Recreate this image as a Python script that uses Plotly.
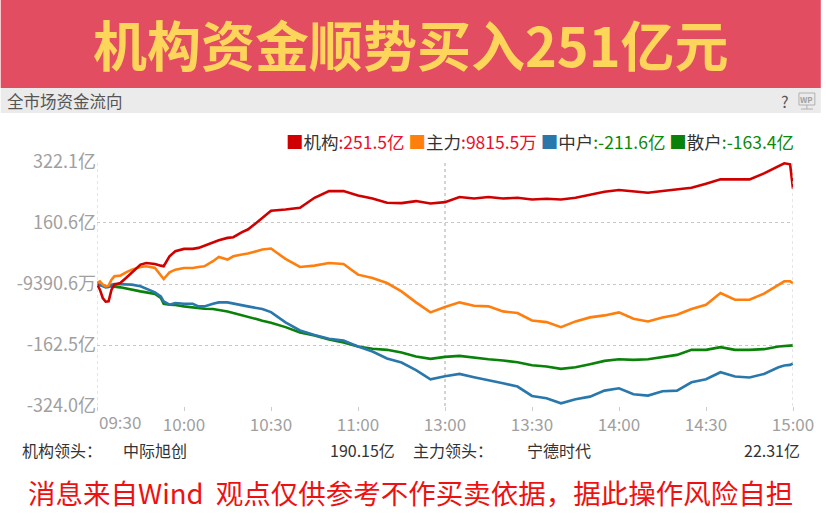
import plotly.graph_objects as go

# minutes since 09:30 (trading time, lunch break removed: 120 == 13:00)
minutes = [0, 1, 2, 3, 4, 5, 6, 8, 10, 12, 15, 17, 20, 22, 23, 25, 27, 30, 33, 35,
           37, 40, 42, 45, 47, 50, 52, 55, 57, 60, 65, 70, 75, 80, 85, 90, 95, 100,
           105, 110, 115, 120, 125, 130, 135, 140, 145, 150, 155, 160, 165, 170,
           175, 180, 185, 190, 195, 200, 205, 210, 215, 220, 225, 230, 235, 237,
           239, 240]

# 亿元
jigou = [-0.9, -16.0, -38.1, -47.8, -47.0, -16.0, -2.7, 1.7, 15.0, 28.3, 50.4, 54.8,
         52.2, 47.7, 46.0, 72.5, 85.8, 92.0, 92.0, 94.7, 100.8, 107.9, 115.0, 121.2,
         123.0, 136.3, 143.3, 161.0, 174.3, 192.9, 196.4, 200.9, 227.4, 245.1, 245.1,
         233.6, 225.6, 214.1, 213.3, 218.6, 212.4, 215.9, 229.2, 225.6, 229.2, 225.6,
         227.4, 223.0, 224.8, 223.0, 227.4, 236.3, 243.3, 247.8, 245.1, 240.7, 245.1,
         249.5, 253.9, 264.6, 276.1, 276.1, 276.1, 292.0, 309.7, 318.6, 315.9, 251.5]

zhuli = [1.7, 6.2, -2.7, -7.1, -5.4, 10.6, 19.4, 21.2, 30.0, 37.1, 44.2, 46.0, 41.6,
         23.8, 12.3, 30.0, 37.1, 41.6, 41.6, 44.2, 46.0, 59.3, 70.7, 63.7, 72.5, 77.0,
         79.6, 85.8, 90.2, 92.9, 65.5, 44.2, 47.7, 54.8, 52.2, 23.8, 15.0, 1.7, -20.4,
         -49.6, -76.1, -62.0, -49.6, -58.5, -60.2, -73.5, -77.9, -97.4, -101.8, -115.1,
         -100.0, -89.4, -84.1, -76.1, -93.0, -100.0, -89.4, -82.3, -67.3, -55.8, -24.8,
         -42.5, -42.5, -26.6, -2.7, 6.2, 6.2, 0.98]

zhonghu = [-0.9, -4.5, -7.1, -9.8, -8.9, -2.7, -0.9, -0.9, -2.7, -2.7, -7.1, -14.2,
           -23.1, -33.7, -47.0, -55.8, -51.4, -53.2, -53.2, -60.2, -60.2, -53.2, -49.6,
           -49.6, -53.2, -57.6, -60.2, -64.6, -67.3, -75.3, -102.7, -123.9, -136.3,
           -146.0, -150.5, -166.4, -179.7, -198.3, -208.9, -229.2, -253.2, -245.2,
           -239.0, -247.8, -254.9, -263.8, -272.6, -297.4, -303.6, -316.9, -306.3,
           -299.2, -283.3, -277.1, -293.0, -296.5, -285.0, -283.3, -261.1, -253.2,
           -234.6, -246.1, -248.7, -239.0, -221.3, -216.9, -215.1, -211.6]

sanhu = [-0.9, -3.6, -5.4, -6.2, -6.2, -7.1, -8.0, -9.8, -13.3, -16.0, -20.4, -23.1,
         -27.5, -38.1, -53.2, -55.8, -56.7, -60.2, -62.9, -65.5, -66.4, -67.3, -69.1,
         -73.5, -77.9, -83.2, -86.8, -93.9, -98.3, -103.6, -115.1, -129.2, -137.2,
         -147.8, -155.8, -166.4, -172.6, -175.3, -182.4, -193.0, -199.2, -193.9,
         -191.2, -196.5, -200.1, -203.6, -208.0, -216.0, -219.5, -225.7, -221.3,
         -213.3, -204.5, -200.1, -201.8, -200.1, -194.8, -188.6, -175.3, -175.3,
         -168.2, -175.3, -175.3, -173.5, -166.4, -164.6, -164.6, -163.4]

x_ticks = [0, 30, 60, 90, 120, 150, 180, 210, 240]
x_labels = ["09:30", "10:00", "10:30", "11:00", "13:00", "13:30", "14:00", "14:30", "15:00"]
y_ticks = [322.1, 160.6, -0.939, -162.5, -324.0]
y_labels = ["322.1亿", "160.6亿", "-9390.6万", "-162.5亿", "-324.0亿"]

FONT = "Noto Sans CJK SC"
W, H = 826, 517
L, R, T, B = 97, 28, 162, 111


def px_x(px):
    return (px - L) / (W - L - R)


def px_y(py):
    return (H - B - py) / (H - T - B)


fig = go.Figure()
series = [("机构", jigou, "#d00000"), ("主力", zhuli, "#ff7f0e"),
          ("中户", zhonghu, "#2a78ab"), ("散户", sanhu, "#0a820a")]
for name, vals, col in series[::-1]:
    fig.add_trace(go.Scatter(x=minutes, y=vals, mode="lines", name=name,
                             line=dict(color=col, width=2.6), showlegend=False,
                             hoverinfo="skip"))

fig.update_layout(
    width=W, height=H,
    margin=dict(l=L, r=R, t=T, b=B),
    paper_bgcolor="white", plot_bgcolor="white",
    font=dict(family=FONT),
    xaxis=dict(range=[0, 240], tickvals=x_ticks,
               ticktext=[""] + x_labels[1:], showgrid=False, zeroline=False,
               ticks="outside", ticklen=4, tickcolor="#cccccc",
               tickfont=dict(size=17, color="#a0a0a0"), showline=False),
    yaxis=dict(range=[-324.0, 322.1], tickvals=y_ticks, ticktext=y_labels,
               showgrid=True, gridcolor="#c8c8c8", griddash="dot", gridwidth=1,
               zeroline=False, tickfont=dict(size=18, color="#a0a0a0"),
               ticks="", showline=False),
)

shapes = [
    # banner and header bar
    dict(type="rect", xref="paper", yref="paper", x0=px_x(0), x1=px_x(W),
         y0=px_y(0), y1=px_y(88), fillcolor="#e24d62", line=dict(width=0), layer="below"),
    dict(type="rect", xref="paper", yref="paper", x0=px_x(0), x1=px_x(W),
         y0=px_y(88), y1=px_y(113), fillcolor="#ebebeb", line=dict(width=0), layer="below"),
    # WP icon
    dict(type="rect", xref="paper", yref="paper", x0=px_x(804), x1=px_x(820),
         y0=px_y(93), y1=px_y(105), line=dict(color="#b0b0b0", width=1)),
    dict(type="line", xref="paper", yref="paper", x0=px_x(812), x1=px_x(812),
         y0=px_y(105), y1=px_y(109), line=dict(color="#b0b0b0", width=1)),
    dict(type="line", xref="paper", yref="paper", x0=px_x(806), x1=px_x(818),
         y0=px_y(109), y1=px_y(109), line=dict(color="#b0b0b0", width=1)),
    # frame lines
    dict(type="line", xref="x", yref="paper", x0=0, x1=0, y0=0, y1=1,
         line=dict(color="#cccccc", width=1, dash="dot")),
    dict(type="line", xref="x", yref="paper", x0=240, x1=240, y0=0, y1=1,
         line=dict(color="#cccccc", width=1, dash="dot")),
    dict(type="line", xref="x", yref="paper", x0=120, x1=120, y0=0, y1=1,
         line=dict(color="#a8a8a8", width=1, dash="dot"), layer="below"),
]

legend_html = (
    "<span style='color:#d00000'>■</span><span style='color:#333'>机构</span>"
    "<span style='color:#e8102a'>:251.5亿</span> "
    "<span style='color:#ff7f0e'>■</span><span style='color:#333'>主力</span>"
    "<span style='color:#e8102a'>:9815.5万</span> "
    "<span style='color:#2a78ab'>■</span><span style='color:#333'>中户</span>"
    "<span style='color:#0a8a0a'>:-211.6亿</span> "
    "<span style='color:#0a820a'>■</span><span style='color:#333'>散户</span>"
    "<span style='color:#0a8a0a'>:-163.4亿</span>"
)


def note(text, px, py, size, color, anchor="left", bold=False):
    if bold:
        text = "<b>" + text + "</b>"
    return dict(text=text, xref="paper", yref="paper", x=px_x(px), y=px_y(py),
                xanchor=anchor, yanchor="middle", showarrow=False,
                font=dict(family=FONT, size=size, color=color))


annotations = [
    note("机构资金顺势买入251亿元", 413, 43, 54, "#fdd55b", "center", bold=True),
    note("全市场资金流向", 4, 101, 16.5, "#555555"),
    note("?", 790, 101, 16, "#555555", "center"),
    note("WP", 812, 99, 8, "#a0a0a0", "center", bold=True),
    note(legend_html, 801, 141, 17.5, "#333333", "right"),
    dict(text=x_labels[0], xref="x", yref="paper", x=0, y=px_y(421), xanchor="left",
         yanchor="middle", showarrow=False, font=dict(family=FONT, size=17, color="#a0a0a0")),
    note("机构领头：", 19, 450, 16, "#333333"),
    note("中际旭创", 121, 450, 16, "#333333"),
    note("190.15亿", 399, 450, 16, "#333333", "right"),
    note("主力领头：", 413, 450, 16, "#333333"),
    note("宁德时代", 528, 450, 16, "#333333"),
    note("22.31亿", 807, 450, 16, "#333333", "right"),
    note("消息来自Wind  观点仅供参考不作买卖依据，据此操作风险自担", 413, 492, 27.5,
         "#ee1111", "center"),
]

fig.update_layout(shapes=shapes, annotations=annotations)

fig.write_html("out.html", config={"displayModeBar": False},
               post_script="document.body.style.margin='0px';")
